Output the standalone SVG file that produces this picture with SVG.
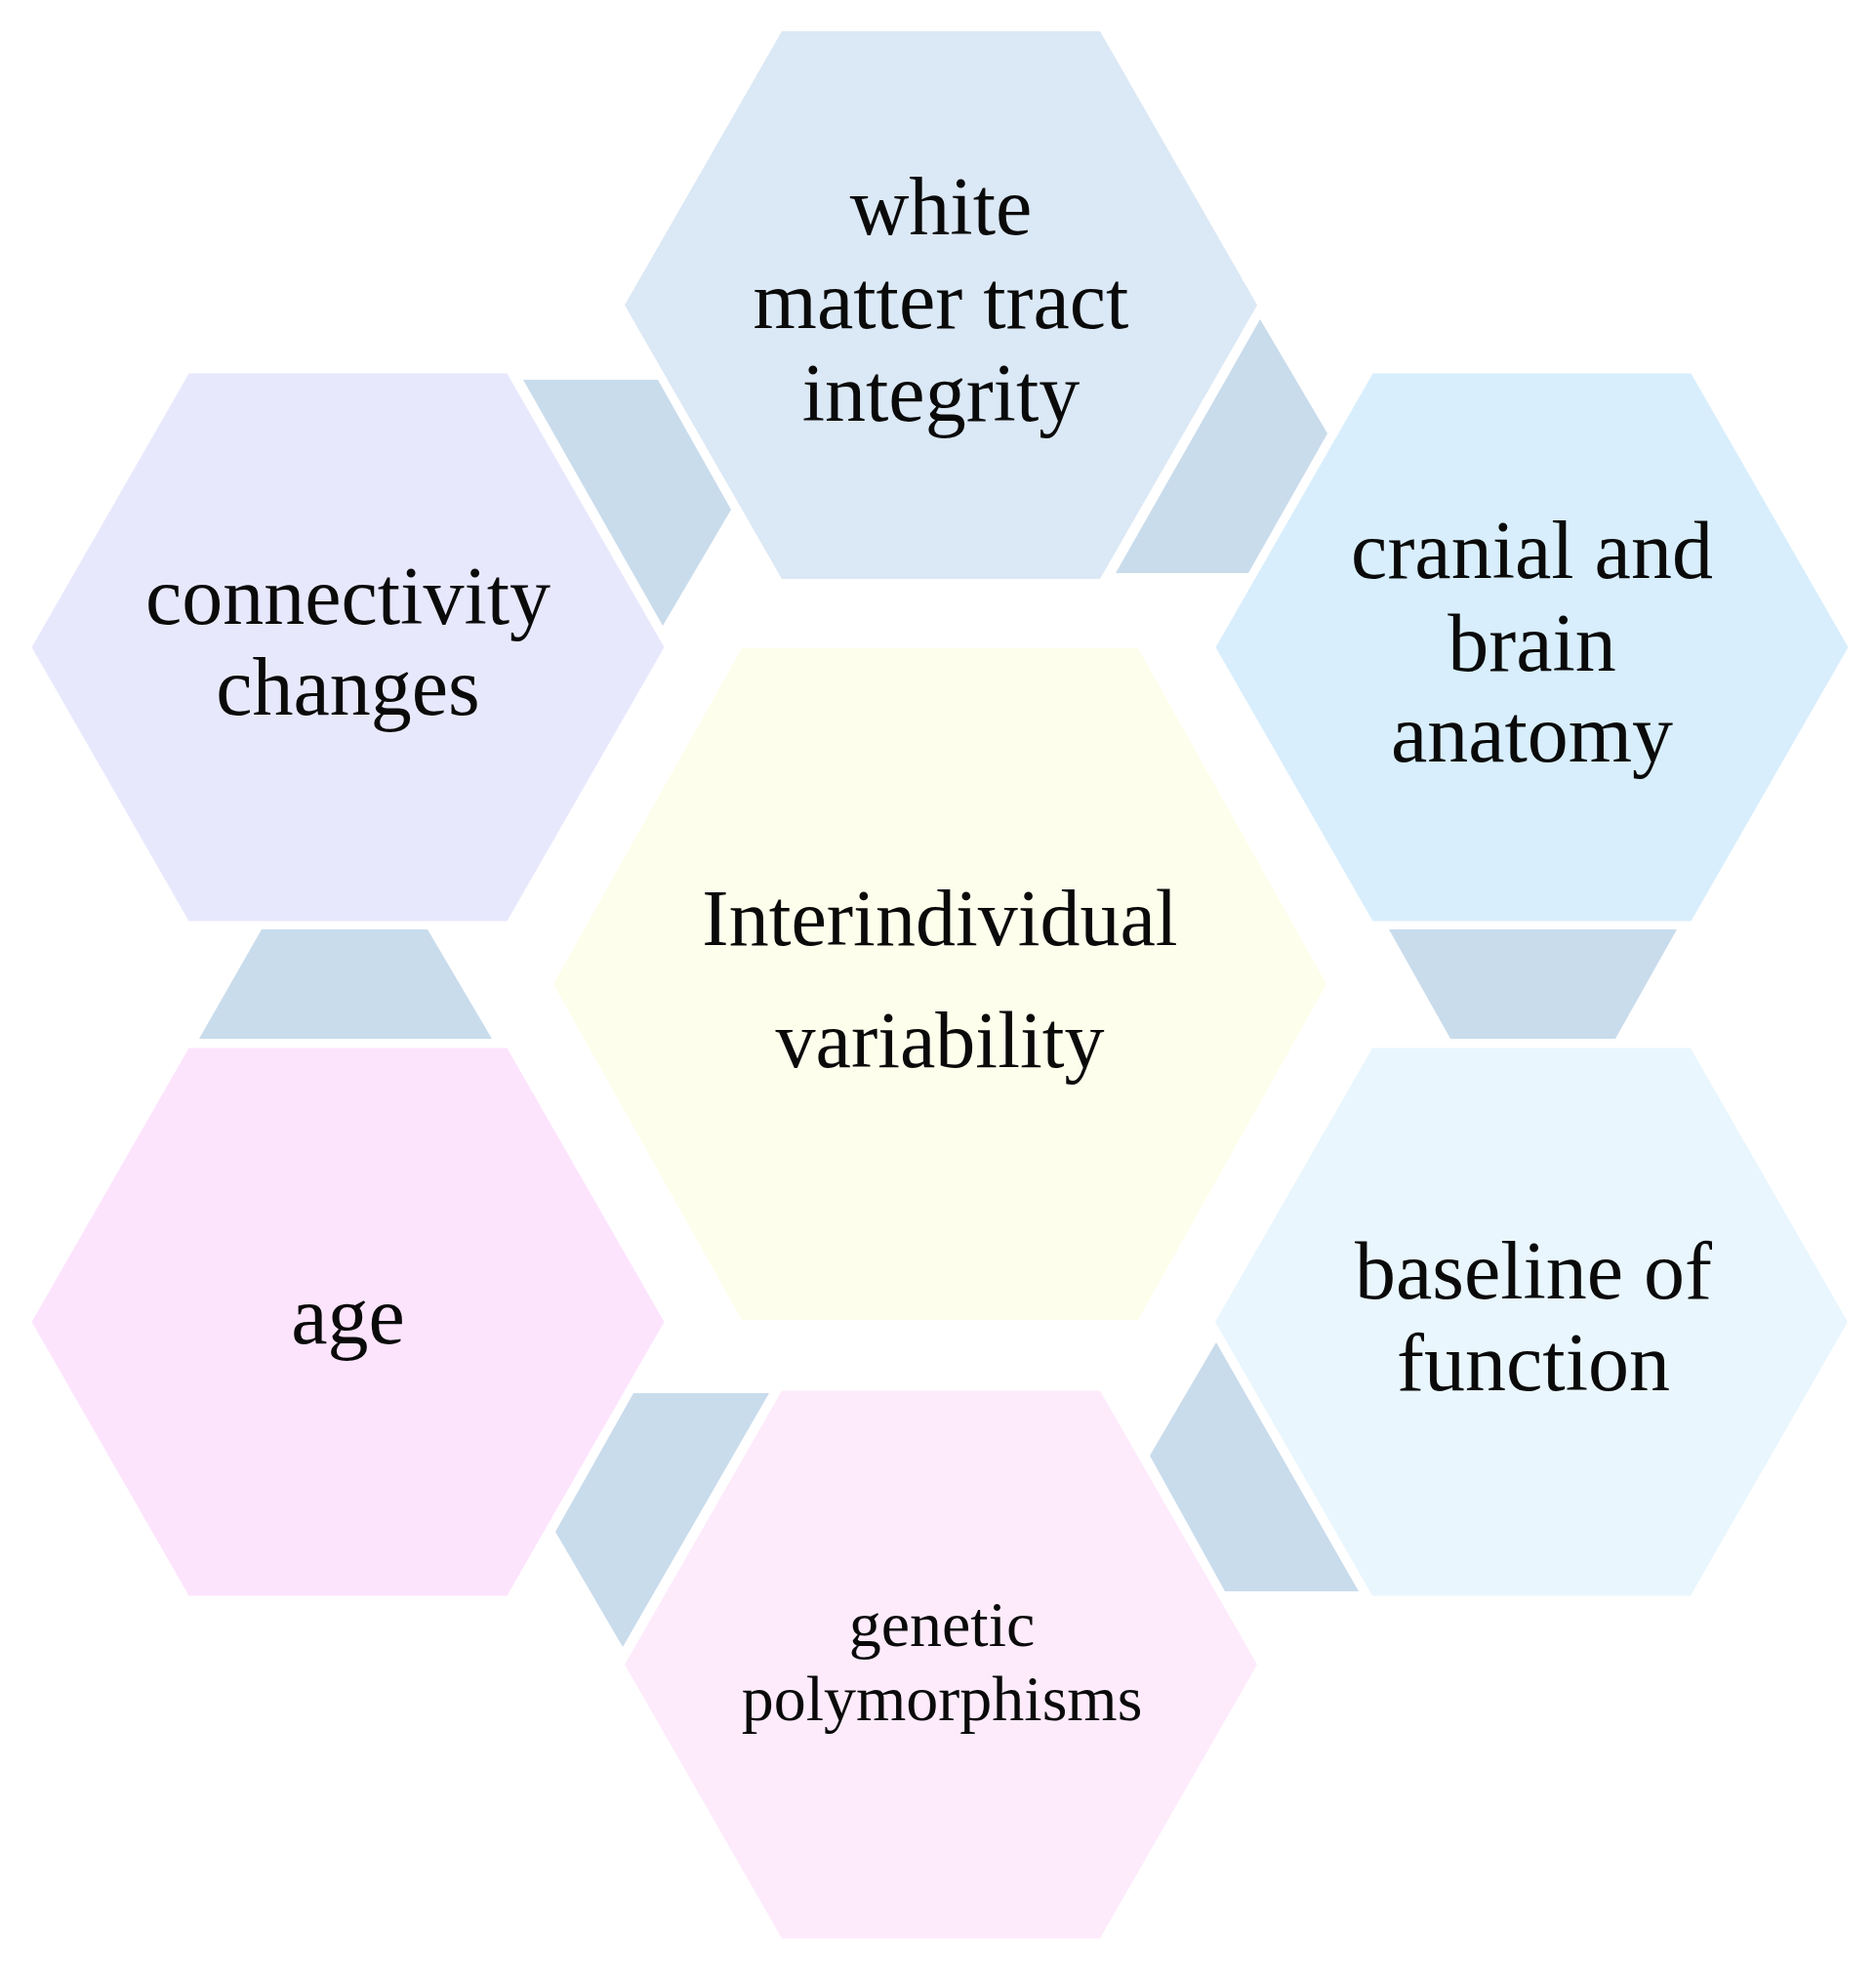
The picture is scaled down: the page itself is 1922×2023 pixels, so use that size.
<svg xmlns="http://www.w3.org/2000/svg" xmlns:xlink="http://www.w3.org/1999/xlink" width="1922" height="2023" viewBox="0 0 1922 2023">
<style>
.lbl{font-family:"Liberation Serif","Times New Roman",serif;fill:#0a0a0a;text-anchor:middle}
.big{font-size:84px}
.mid{font-size:82px}
.small{font-size:66px}
.conn{fill:#c9dcec}
</style>
<defs>
<polygon id="hexO" points="-324,0 -163,-280.5 163,-280.5 324,0 163,280.5 -163,280.5"/>
<polygon id="hexC" points="-396,0 -203,-344 203,-344 396,0 203,344 -203,344"/>
</defs>
<rect width="1922" height="2023" fill="#ffffff"/>
<g id="connectors">
<polygon class="conn" points="536,389 674,389 749,522 679,641"/>
<polygon class="conn" points="1291,327 1360,444 1279,587 1143,587"/>
<polygon class="conn" points="1423,952 1718,952 1655,1064 1486,1064"/>
<polygon class="conn" points="1246,1375 1178,1491 1255,1630 1392,1630"/>
<polygon class="conn" points="649,1427 788,1427 638,1687 569,1569"/>
<polygon class="conn" points="268,952 438,952 504,1064 204,1064"/>
</g>
<g id="node-center">
<use xlink:href="#hexC" x="963" y="1008" fill="#fefeec"/>
<text class="lbl mid" x="963" y="968">Interindividual</text>
<text class="lbl mid" x="963" y="1093">variability</text>
</g>
<g id="node-white-matter">
<use xlink:href="#hexO" x="964" y="312.5" fill="#dbe8f5"/>
<text class="lbl big" x="964" y="240">white</text>
<text class="lbl big" x="964" y="336">matter tract</text>
<text class="lbl big" x="964" y="431">integrity</text>
</g>
<g id="node-connectivity">
<use xlink:href="#hexO" x="356.5" y="663" fill="#e8e8fd"/>
<text class="lbl big" x="356.5" y="639">connectivity</text>
<text class="lbl big" x="356.5" y="732">changes</text>
</g>
<g id="node-cranial">
<use xlink:href="#hexO" x="1569.5" y="663" fill="#d8eefc"/>
<text class="lbl big" x="1569.5" y="592">cranial and</text>
<text class="lbl big" x="1569.5" y="687">brain</text>
<text class="lbl big" x="1569.5" y="780">anatomy</text>
</g>
<g id="node-age">
<use xlink:href="#hexO" x="356.5" y="1354" fill="#fde4fd"/>
<text class="lbl big" x="356.5" y="1376">age</text>
</g>
<g id="node-baseline">
<use xlink:href="#hexO" x="1569" y="1354" fill="#e9f6fe"/>
<text class="lbl big" x="1571" y="1330">baseline of</text>
<text class="lbl big" x="1571" y="1424">function</text>
</g>
<g id="node-genetic">
<use xlink:href="#hexO" x="964" y="1705" fill="#fdebfc"/>
<text class="lbl small" x="965" y="1686">genetic</text>
<text class="lbl small" x="965" y="1762">polymorphisms</text>
</g>
</svg>
